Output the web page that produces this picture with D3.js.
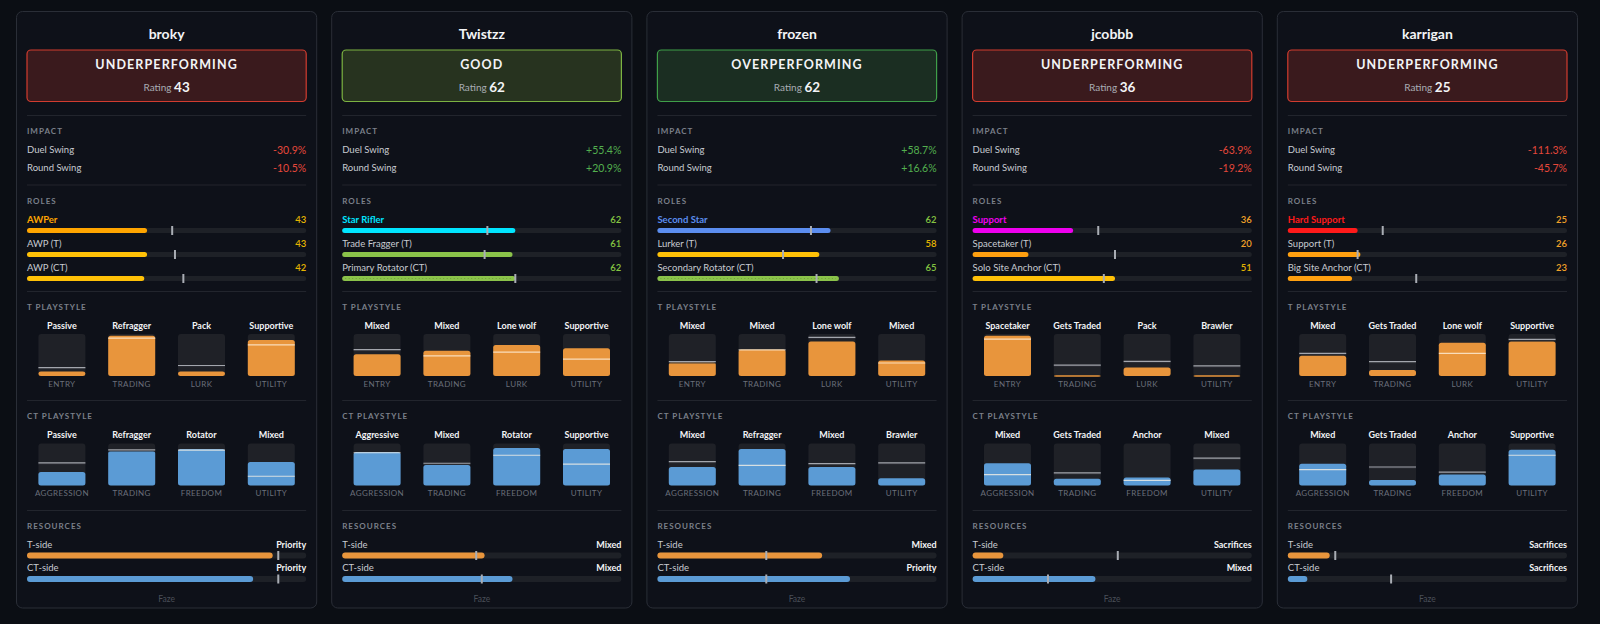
<!DOCTYPE html>
<html><head><meta charset="utf-8">
<script src="https://cdn.jsdelivr.net/npm/d3@7"></script>
<style>
html,body{margin:0;padding:0;background:#0b0e14;}
svg{display:block;font-family:Lato,"Noto Sans",sans-serif;}
</style>
</head><body>
<svg id="chart" width="1600" height="624"></svg>
<script>
// ---------------- DATA ----------------
const players = ["broky","Twistzz","frozen","jcobbb","karrigan"];
const team = "Faze";
const statusLabels = ["UNDERPERFORMING","GOOD","OVERPERFORMING","UNDERPERFORMING","UNDERPERFORMING"];
const ratings = [43,62,62,36,25];
const impactMetrics = ["Duel Swing","Round Swing"];
const duelSwing = [-30.9,55.4,58.7,-63.9,-111.3];
const roundSwing = [-10.5,20.9,16.6,-19.2,-45.7];
const roleNames = [
  ["AWPer","AWP (T)","AWP (CT)"],
  ["Star Rifler","Trade Fragger (T)","Primary Rotator (CT)"],
  ["Second Star","Lurker (T)","Secondary Rotator (CT)"],
  ["Support","Spacetaker (T)","Solo Site Anchor (CT)"],
  ["Hard Support","Support (T)","Big Site Anchor (CT)"]
];
const roleValues = [[43,43,42],[62,61,62],[62,58,65],[36,20,51],[25,26,23]];
const roleBaselines = [[52,53,56],[52,51,62],[55,45,57],[45,51,47],[34,25,46]];
const tAxes = ["ENTRY","TRADING","LURK","UTILITY"];
const ctAxes = ["AGGRESSION","TRADING","FREEDOM","UTILITY"];
const tStyleNames = [
  ["Passive","Refragger","Pack","Supportive"],
  ["Mixed","Mixed","Lone wolf","Supportive"],
  ["Mixed","Mixed","Lone wolf","Mixed"],
  ["Spacetaker","Gets Traded","Pack","Brawler"],
  ["Mixed","Gets Traded","Lone wolf","Supportive"]
];
const tStyleValues = [[11,96,11,86],[52,60,74,66],[33,63,82,37],[96,2,20,2],[48,14,79,82]];
const tStyleBaselines = [[20,90,25,74],[63,48,57,40],[34,62,92,31],[88,26,35,24],[54,34,54,87]];
const ctStyleNames = [
  ["Passive","Refragger","Rotator","Mixed"],
  ["Aggressive","Mixed","Rotator","Supportive"],
  ["Mixed","Refragger","Mixed","Brawler"],
  ["Mixed","Gets Traded","Anchor","Mixed"],
  ["Mixed","Gets Traded","Anchor","Supportive"]
];
const ctStyleValues = [[32,82,87,56],[80,49,89,87],[44,87,44,17],[53,16,19,38],[52,13,26,85]];
const ctStyleBaselines = [[54,85,84,22],[78,53,72,51],[57,48,52,54],[26,30,12,65],[38,44,32,72]];
const resourceSides = ["T-side","CT-side"];
const resourceLabels = [["Priority","Priority"],["Mixed","Mixed"],["Mixed","Priority"],["Sacrifices","Mixed"],["Sacrifices","Sacrifices"]];
const resourceValues = [[88,81],[51,61],[59,69],[11,44],[15,7]];
const resourceBaselines = [[90,90],[48,50],[39,39],[52,27],[17,37]];

// ---------------- STYLE ----------------
const statusStyle = {
  "UNDERPERFORMING": {fill:"#3a1a1d", stroke:"#d23c2f"},
  "GOOD": {fill:"#27331f", stroke:"#7cb342"},
  "OVERPERFORMING": {fill:"#1b2e22", stroke:"#3f9f49"}
};
const primaryRoleColor = {
  "AWPer":"#ffa500","Star Rifler":"#00e5ff","Second Star":"#5b8def",
  "Support":"#ee00ee","Hard Support":"#ff1a1a"
};
const C = {
  card:"#0e1119", cardStroke:"#2a2e37", divider:"#22252d", section:"#7b808a",
  text:"#c8cbd1", white:"#f3f4f6", axis:"#6a6f79", track:"#1e2127", box:"#1f2127",
  tFill:"#e8953c", ctFill:"#5b9bd5", marker:"#a9adb4", faze:"#4a4f58",
  neg:"#e5483b", pos:"#53b04f"
};
const valueColor = v => v >= 60 ? "#84c441" : v >= 40 ? "#e5b400" : "#f0a028";
const barColor = v => v >= 60 ? "#8bc34a" : v >= 40 ? "#ffc107" : "#ffa010";

// ---------------- LAYOUT ----------------
const svg = d3.select("#chart");
svg.append("rect").attr("width",1600).attr("height",624).attr("fill","#0b0e14");
const cardGap = 14, cardLeft = 16, cardRight = 1578;
const cardStep = (cardRight - cardLeft + cardGap) / players.length;
const xCard = d3.scaleBand().domain(d3.range(players.length)).range([cardLeft,cardRight])
  .paddingInner(cardGap/cardStep).paddingOuter(0);
const bw = xCard.bandwidth();
const pad = 11;
const cardTop = 11.5, cardBottom = 608;
const xBar = d3.scaleLinear().domain([0,100]).range([pad, bw - pad]);
const xCol = d3.scaleBand().domain(d3.range(4)).range([pad, bw - pad]);
const boxW = 47;
const fmtPct = v => (v < 0 ? "-" : "+") + Math.abs(v).toFixed(1) + "%";

function txt(g, x, y, s, o) {
  o = o || {};
  const t = g.append("text").attr("x",x).attr("y",y).text(s)
    .attr("dominant-baseline","central")
    .attr("text-anchor",o.anchor||"start")
    .attr("font-size",o.size||10)
    .attr("font-weight",o.weight||400)
    .attr("fill",o.fill||C.text);
  if (o.ls) t.attr("letter-spacing",o.ls);
  return t;
}
function divider(g, y) {
  g.append("line").attr("x1",pad).attr("x2",bw-pad).attr("y1",y).attr("y2",y)
    .attr("stroke",C.divider).attr("stroke-width",1);
}
function section(g, y, s) {
  txt(g, pad, y, s, {size:8, weight:700, fill:C.section, ls:1});
}
function hbar(g, cy, h, value, base, color, markerH) {
  g.append("rect").attr("x",xBar(0)).attr("y",cy-h/2).attr("width",xBar(100)-xBar(0)).attr("height",h)
    .attr("rx",h/2).attr("fill",C.track);
  g.append("rect").attr("x",xBar(0)).attr("y",cy-h/2).attr("width",Math.max(h, xBar(value)-xBar(0))).attr("height",h)
    .attr("rx",h/2).attr("fill",color);
  g.append("rect").attr("x",xBar(base)-1).attr("y",cy-markerH/2).attr("width",2).attr("height",markerH)
    .attr("fill",C.marker);
}
function styleBlock(g, y0, names, values, bases, axes, fill) {
  const yHead = y0, boxTop = y0 + 9, boxBot = y0 + 51, yAxis = y0 + 58.5;
  const yS = d3.scaleLinear().domain([0,100]).range([boxBot, boxTop]);
  names.forEach((nm, j) => {
    const cx = xCol(j) + xCol.bandwidth()/2;
    const bx = cx - boxW/2;
    txt(g, cx, yHead, nm, {anchor:"middle", size:9, weight:700, fill:C.white});
    g.append("rect").attr("x",bx).attr("y",boxTop).attr("width",boxW).attr("height",boxBot-boxTop)
      .attr("rx",3).attr("fill",C.box);
    const v = values[j], b = bases[j];
    g.append("rect").attr("x",bx).attr("y",yS(v)).attr("width",boxW).attr("height",Math.max(1.5,boxBot-yS(v)))
      .attr("rx",2.5).attr("fill",fill);
    const inside = b <= v;
    if (!inside) {
      g.append("line").attr("x1",bx).attr("x2",bx+boxW).attr("y1",yS(b)+1.2).attr("y2",yS(b)+1.2)
        .attr("stroke","#2a2c33").attr("stroke-width",1);
    }
    g.append("line").attr("x1",bx).attr("x2",bx+boxW).attr("y1",yS(b)).attr("y2",yS(b))
      .attr("stroke", inside ? "rgba(255,245,230,0.75)" : "#a3a6ad").attr("stroke-width",1.2);
    txt(g, cx, yAxis, axes[j], {anchor:"middle", size:8, fill:C.axis, ls:0.4});
  });
}

players.forEach((p, i) => {
  const g = svg.append("g").attr("transform",`translate(${xCard(i)},0)`);
  g.append("rect").attr("x",0.5).attr("y",cardTop).attr("width",bw-1).attr("height",cardBottom-cardTop)
    .attr("rx",6).attr("fill",C.card).attr("stroke",C.cardStroke).attr("stroke-width",1);

  txt(g, bw/2, 33.5, p, {anchor:"middle", size:14, weight:700, fill:C.white});
  const st = statusStyle[statusLabels[i]];
  g.append("rect").attr("x",pad).attr("y",50).attr("width",bw-2*pad).attr("height",51.5)
    .attr("rx",4).attr("fill",st.fill).attr("stroke",st.stroke).attr("stroke-width",1.2);
  txt(g, bw/2, 64.5, statusLabels[i], {anchor:"middle", size:12.5, weight:700, fill:C.white, ls:1.1});
  const rt = txt(g, bw/2, 87, "", {anchor:"middle", size:10, fill:"#a9adb4"});
  rt.append("tspan").text("Rating ");
  rt.append("tspan").text(ratings[i]).attr("font-size",13.5).attr("font-weight",700).attr("fill",C.white);

  divider(g, 115.5);
  section(g, 131, "IMPACT");
  [duelSwing[i], roundSwing[i]].forEach((v, k) => {
    const y = 149.5 + k*18.2;
    txt(g, pad, y, impactMetrics[k], {size:9.5, fill:C.text});
    txt(g, bw-pad, y, fmtPct(v), {anchor:"end", size:10.5, fill: v < 0 ? C.neg : C.pos});
  });

  divider(g, 185);
  section(g, 201, "ROLES");
  roleNames[i].forEach((rn, k) => {
    const ly = 219 + k*24, by = 230.5 + k*24;
    const primary = k === 0;
    const v = roleValues[i][k];
    txt(g, pad, ly, rn, {size:9.5, weight: primary?700:400, fill: primary ? primaryRoleColor[rn] : C.text});
    txt(g, bw-pad, ly, v, {anchor:"end", size:9.5, weight:600, fill:valueColor(v)});
    hbar(g, by, 5, v, roleBaselines[i][k], primary ? primaryRoleColor[rn] : barColor(v), 9);
    if (k === 2 && v >= 60) {
      g.append("line").attr("x1",xBar(0)+3).attr("x2",xBar(v)-3).attr("y1",by).attr("y2",by)
        .attr("stroke","#6f9e3a").attr("stroke-width",1).attr("stroke-dasharray","1,2.5");
    }
  });

  divider(g, 291.5);
  section(g, 306.7, "T PLAYSTYLE");
  styleBlock(g, 325, tStyleNames[i], tStyleValues[i], tStyleBaselines[i], tAxes, C.tFill);

  divider(g, 400.5);
  section(g, 416, "CT PLAYSTYLE");
  styleBlock(g, 434.5, ctStyleNames[i], ctStyleValues[i], ctStyleBaselines[i], ctAxes, C.ctFill);

  divider(g, 510.5);
  section(g, 525.7, "RESOURCES");
  resourceSides.forEach((sd, k) => {
    const ly = 544 + k*23.7, by = 555.5 + k*23.5;
    txt(g, pad, ly, sd, {size:9.5, fill:C.text});
    txt(g, bw-pad, ly, resourceLabels[i][k], {anchor:"end", size:9, weight:700, fill:C.white});
    hbar(g, by, 6, resourceValues[i][k], resourceBaselines[i][k], k===0 ? C.tFill : C.ctFill, 9);
  });

  txt(g, bw/2, 599, team, {anchor:"middle", size:8.5, fill:C.faze});
});
</script>
</body></html>
